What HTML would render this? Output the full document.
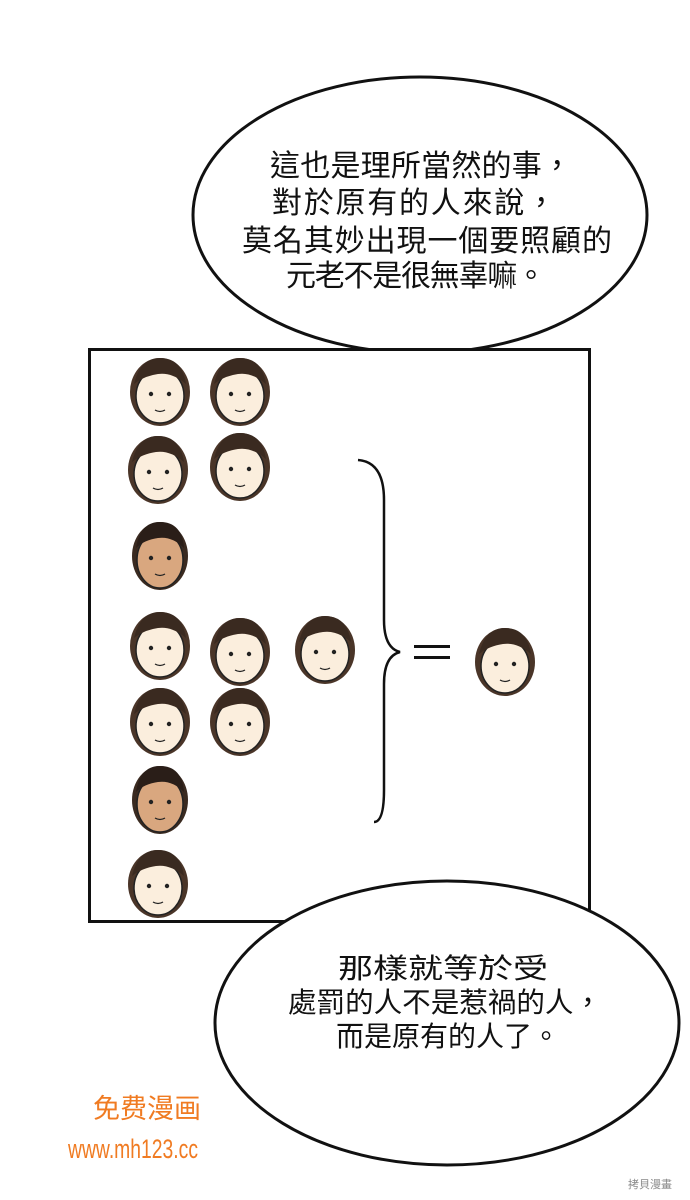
<!DOCTYPE html>
<html><head><meta charset="utf-8"><style>
html,body{margin:0;padding:0;background:#fff;}
body{width:690px;height:1200px;overflow:hidden;position:relative;}
svg{position:absolute;left:0;top:0;}
.t{font-family:"Liberation Sans","Noto Sans CJK TC",sans-serif;fill:#111;}
</style></head><body>
<svg width="690" height="1200" viewBox="0 0 690 1200">
<defs>
<g id="face">
  <ellipse cx="0" cy="4" rx="30" ry="34" fill="#4a3528"/>
  <ellipse cx="0" cy="8" rx="24" ry="27" fill="#fbeedd" stroke="#222" stroke-width="1.5"/>
  <path d="M-26,-4 Q-20,-30 0,-30 Q22,-30 26,-4 Q12,-16 -2,-14 Q-16,-12 -26,-4Z" fill="#3a2a20"/>
  <circle cx="-9" cy="6" r="2.2" fill="#222"/><circle cx="9" cy="6" r="2.2" fill="#222"/>
  <path d="M-5,22 Q0,25 5,22" stroke="#222" stroke-width="1.3" fill="none"/>
</g>
<g id="faceT">
  <ellipse cx="0" cy="4" rx="28" ry="34" fill="#3a2a20"/>
  <ellipse cx="0" cy="8" rx="23" ry="28" fill="#d9a77f" stroke="#222" stroke-width="1.5"/>
  <path d="M-24,-4 Q-20,-30 0,-30 Q22,-30 24,-4 Q12,-16 -2,-14 Q-16,-12 -24,-4Z" fill="#2a1e18"/>
  <circle cx="-9" cy="6" r="2.2" fill="#222"/><circle cx="9" cy="6" r="2.2" fill="#222"/>
  <path d="M-5,22 Q0,25 5,22" stroke="#222" stroke-width="1.3" fill="none"/>
</g>
</defs>
<ellipse cx="420" cy="215" rx="227" ry="138" fill="#fff" stroke="#111" stroke-width="3"/>
<g class="t" font-size="30" lengthAdjust="spacingAndGlyphs">
<text x="270" y="176" textLength="302">這也是理所當然的事，</text>
<text x="272" y="213" textLength="284">對於原有的人來說，</text>
<text x="242" y="251" textLength="370">莫名其妙出現一個要照顧的</text>
<text x="286" y="286" textLength="260">元老不是很無辜嘛。</text>
</g>
<rect x="89.5" y="349.5" width="500" height="572" fill="#fff" stroke="#111" stroke-width="3"/>
<use href="#face" x="160" y="388"/>
<use href="#face" x="240" y="388"/>
<use href="#face" x="158" y="466"/>
<use href="#face" x="240" y="463"/>
<use href="#faceT" x="160" y="552"/>
<use href="#face" x="160" y="642"/>
<use href="#face" x="240" y="648"/>
<use href="#face" x="325" y="646"/>
<use href="#face" x="160" y="718"/>
<use href="#face" x="240" y="718"/>
<use href="#faceT" x="160" y="796"/>
<use href="#face" x="158" y="880"/>
<path d="M358,460 Q384,462 384,500 L384,620 Q384,648 400,652 Q384,656 384,684 L384,790 Q384,822 374,822" stroke="#111" stroke-width="2.5" fill="none"/>
<rect x="414" y="645" width="36" height="3" fill="#111"/>
<rect x="414" y="656" width="36" height="3" fill="#111"/>
<use href="#face" x="505" y="658"/>
<ellipse cx="447" cy="1023" rx="232" ry="142" fill="#fff" stroke="#111" stroke-width="3"/>
<g class="t" font-size="28">
<text x="338" y="978" textLength="210" lengthAdjust="spacingAndGlyphs">那樣就等於受</text>
<text x="288" y="1012" textLength="314" lengthAdjust="spacingAndGlyphs">處罰的人不是惹禍的人，</text>
<text x="336" y="1046" textLength="224" lengthAdjust="spacingAndGlyphs">而是原有的人了。</text>
</g>
<g font-family="Liberation Sans,Noto Sans CJK SC,sans-serif" fill="#f07b22">
<text x="93" y="1118" font-size="27">免费漫画</text>
<text x="68" y="1158" font-size="27" textLength="130" lengthAdjust="spacingAndGlyphs">www.mh123.cc</text>
</g>
<text x="650" y="1188" font-size="11" fill="#888" font-family="Noto Sans CJK TC,sans-serif" text-anchor="middle">拷貝漫畫</text>
</svg>
</body></html>
